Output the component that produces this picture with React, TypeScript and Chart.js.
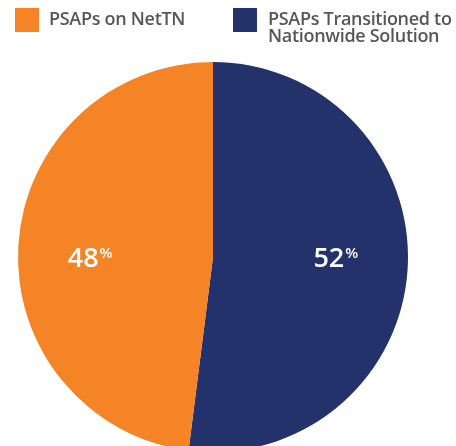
import React, { useEffect, useRef } from "react";
import { Chart, registerables } from "chart.js";

Chart.register(...registerables);

const categories = ["PSAPs Transitioned to Nationwide Solution", "PSAPs on NetTN"];
const values = [52, 48];
const colors = ["#24326B", "#F58427"];
const legendItems = [
  { label: ["PSAPs on NetTN"], color: "#F58427" },
  { label: ["PSAPs Transitioned to", "Nationwide Solution"], color: "#24326B" },
];

const labelPlugin = {
  id: "pctLabels",
  afterDatasetsDraw(chart: any) {
    const ctx = chart.ctx;
    const meta = chart.getDatasetMeta(0);
    meta.data.forEach((arc: any, i: number) => {
      const { x, y, startAngle, endAngle, outerRadius } = arc.getProps(
        ["x", "y", "startAngle", "endAngle", "outerRadius"],
        true
      );
      const mid = (startAngle + endAngle) / 2;
      const side = Math.cos(mid) >= 0 ? 1 : -1;
      const cx = x + side * outerRadius * 0.63;
      const cy = y;
      const num = String(values[i]);
      ctx.save();
      ctx.fillStyle = "#ffffff";
      ctx.textBaseline = "alphabetic";
      ctx.font = "600 27px 'Open Sans'";
      const w1 = ctx.measureText(num).width;
      ctx.font = "600 15px 'Open Sans'";
      const w2 = ctx.measureText("%").width;
      const total = w1 + 1 + w2;
      const left = cx - total / 2;
      const base = cy + 9.5;
      ctx.textAlign = "left";
      ctx.font = "600 27px 'Open Sans'";
      ctx.fillText(num, left, base);
      ctx.font = "600 15px 'Open Sans'";
      ctx.fillText("%", left + w1 + 1, base - 8.5);
      ctx.restore();
    });
  },
};

export default function App() {
  const ref = useRef<HTMLCanvasElement>(null);
  useEffect(() => {
    if (!ref.current) return;
    const chart = new Chart(ref.current, {
      type: "pie",
      data: {
        labels: categories,
        datasets: [
          {
            data: values,
            backgroundColor: colors,
            borderWidth: 0,
          },
        ],
      },
      options: {
        animation: false,
        responsive: false,
        maintainAspectRatio: false,
        layout: { padding: { left: 18, right: 48, top: 62, bottom: 18 } },
        plugins: {
          legend: { display: false },
          tooltip: { enabled: false },
        },
      },
      plugins: [labelPlugin],
    });
    return () => chart.destroy();
  }, []);

  return (
    <div
      style={{
        position: "absolute",
        left: 0,
        top: 0,
        width: 456,
        height: 446,
        overflow: "hidden",
        background: "#ffffff",
        fontFamily: "'Open Sans', sans-serif",
      }}
    >
      <canvas
        ref={ref}
        width={456}
        height={470}
        style={{ position: "absolute", left: 0, top: 0, width: 456, height: 470 }}
      />
      {legendItems.map((it, i) => (
        <div key={i}>
          <div
            style={{
              position: "absolute",
              left: i === 0 ? 15 : 233,
              top: 8,
              width: 24,
              height: 24,
              background: it.color,
            }}
          />
          <div
            style={{
              position: "absolute",
              left: i === 0 ? 49 : 268,
              top: 10,
              fontSize: 18,
              fontWeight: 600,
              letterSpacing: "-0.3px",
              lineHeight: "17px",
              color: "#575757",
              whiteSpace: "nowrap",
            }}
          >
            {it.label.map((l, j) => (
              <div key={j}>{l}</div>
            ))}
          </div>
        </div>
      ))}
    </div>
  );
}
